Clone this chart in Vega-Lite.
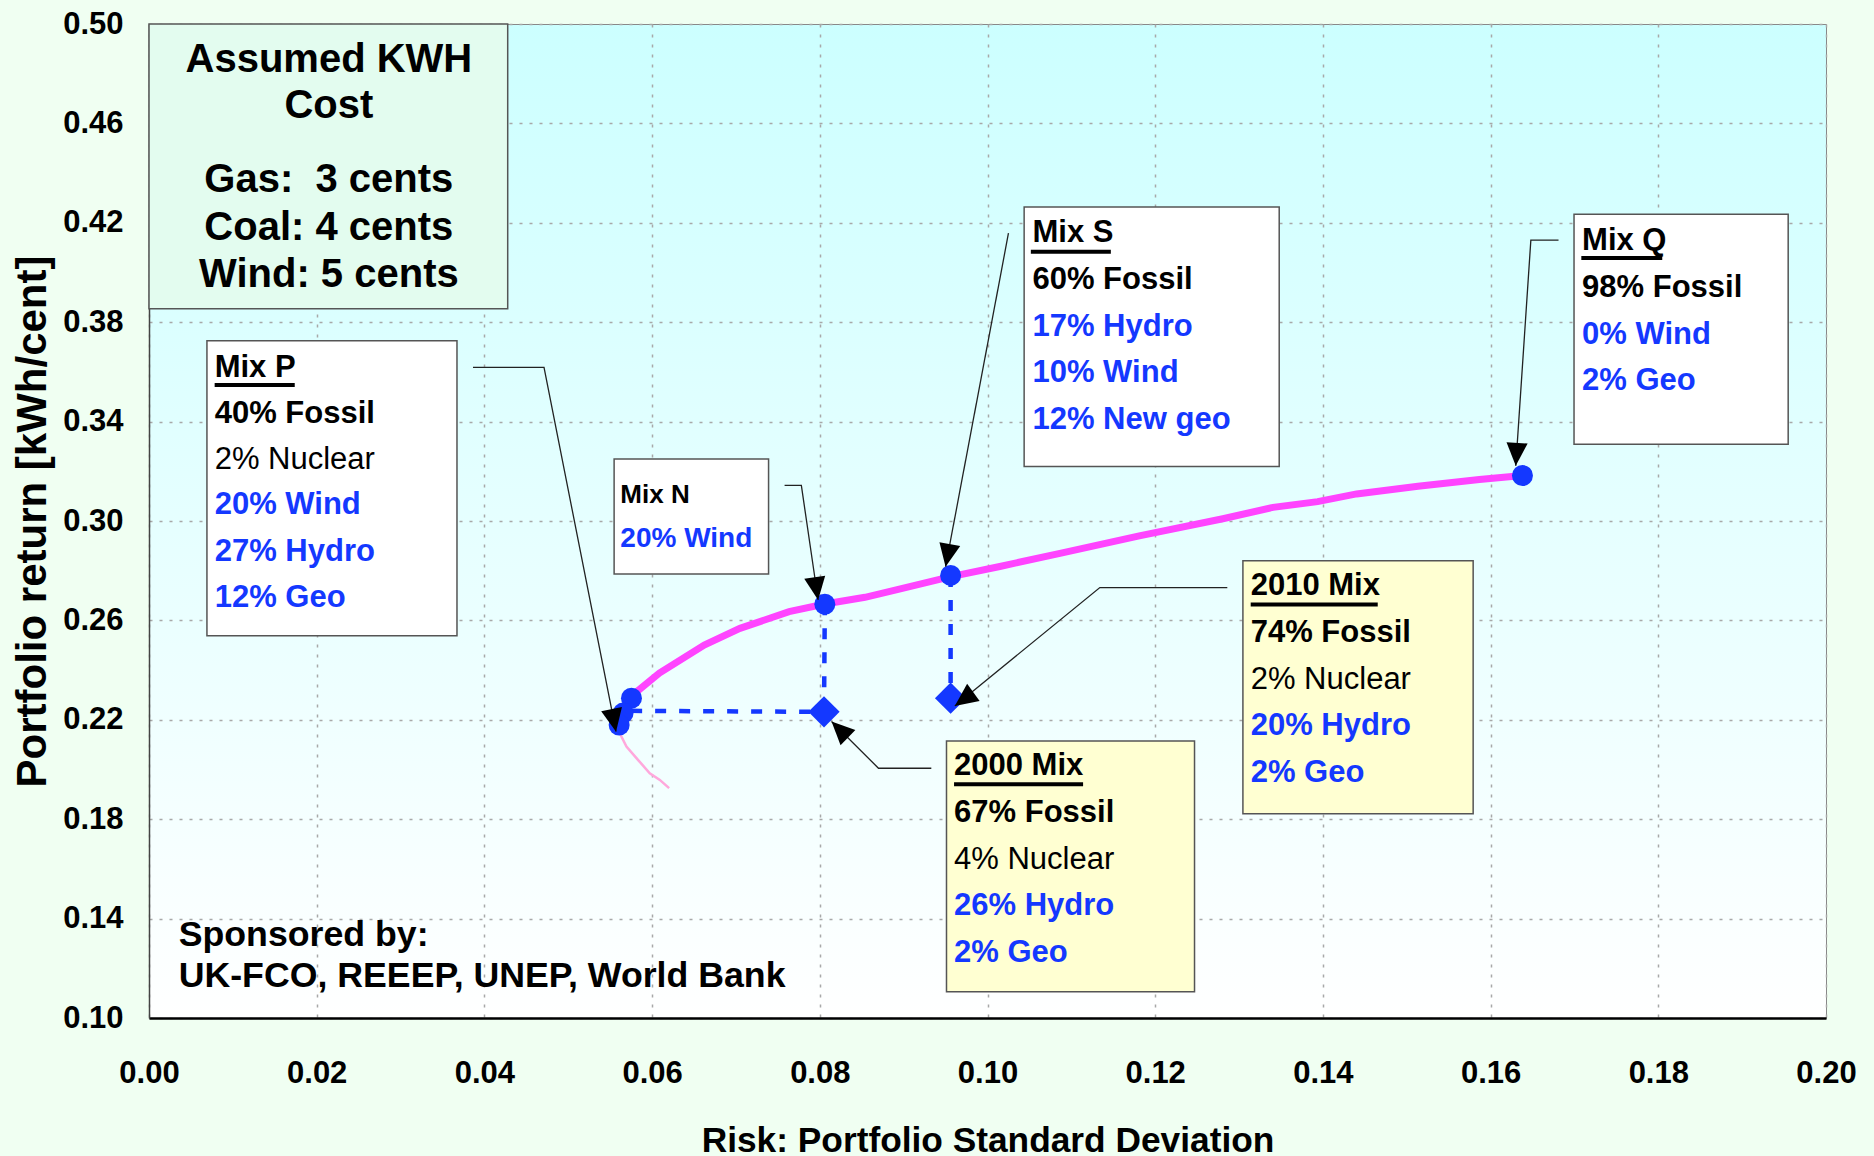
{
  "$schema": "https://vega.github.io/schema/vega-lite/v6.json",
  "width": 1677,
  "height": 994,
  "autosize": {"type": "none"},
  "padding": {"left": 149, "top": 24, "right": 48, "bottom": 138},
  "background": "#f0fff2",
  "config": {
    "font": "Liberation Sans",
    "view": {
      "fill": {"gradient": "linear", "x1": 0, "y1": 0, "x2": 0, "y2": 1,
        "stops": [{"offset": 0, "color": "#ccffff"}, {"offset": 1, "color": "#ffffff"}]},
      "stroke": "#888888",
      "strokeWidth": 1
    },
    "axis": {
      "labelFont": "Liberation Sans",
      "labelFontWeight": "bold",
      "labelFontSize": 31,
      "labelColor": "#000000",
      "ticks": false,
      "tickSize": 0,
      "grid": true,
      "gridColor": "#a8a8a8",
      "gridDash": [3, 7],
      "gridWidth": 1.5,
      "titleFont": "Liberation Sans",
      "titleFontWeight": "bold",
      "titleColor": "#000000",
      "labelFlush": false,
      "labelOverlap": false,
      "labelBound": false
    },
    "axisX": {
      "domainColor": "#000000",
      "domainWidth": 2.5,
      "labelPadding": 40,
      "titleFontSize": 35.3,
      "titleX": 838.5,
      "titleY": 133,
      "titleBaseline": "alphabetic",
      "titleAlign": "center"
    },
    "axisY": {
      "domainColor": "#444444",
      "domainWidth": 1.5,
      "labelPadding": 26,
      "titleFontSize": 42,
      "titleX": -104,
      "titleY": 497,
      "titleAngle": -90,
      "titleBaseline": "alphabetic",
      "titleAlign": "center"
    }
  },
  "datasets": {
    "frontier": [
      {"x": 0.05754, "y": 0.2287}, {"x": 0.05769, "y": 0.2300}, {"x": 0.06087, "y": 0.2388},
      {"x": 0.06622, "y": 0.2501}, {"x": 0.07048, "y": 0.2568}, {"x": 0.07634, "y": 0.2635},
      {"x": 0.0806, "y": 0.2666}, {"x": 0.08539, "y": 0.2693}, {"x": 0.08911, "y": 0.2723},
      {"x": 0.09551, "y": 0.2775}, {"x": 0.10147, "y": 0.2817}, {"x": 0.10878, "y": 0.2871},
      {"x": 0.1181, "y": 0.2940}, {"x": 0.12807, "y": 0.3009}, {"x": 0.13405, "y": 0.3055},
      {"x": 0.13937, "y": 0.3078}, {"x": 0.14402, "y": 0.3109}, {"x": 0.15134, "y": 0.3140},
      {"x": 0.15866, "y": 0.3167}, {"x": 0.16383, "y": 0.3183}
    ],
    "lower": [
      {"x": 0.05607, "y": 0.2179}, {"x": 0.05614, "y": 0.2146}, {"x": 0.05694, "y": 0.2092},
      {"x": 0.05834, "y": 0.2038}, {"x": 0.05972, "y": 0.1985}, {"x": 0.06092, "y": 0.1958},
      {"x": 0.06203, "y": 0.1925}
    ],
    "dashes": [
      {"seg": "h", "seq": 1, "x": 0.0575, "y": 0.2236}, {"seg": "h", "seq": 2, "x": 0.0805, "y": 0.2232},
      {"seg": "vN", "seq": 1, "x": 0.0806, "y": 0.2665}, {"seg": "vN", "seq": 2, "x": 0.0805, "y": 0.2232},
      {"seg": "vS", "seq": 1, "x": 0.0956, "y": 0.2779}, {"seg": "vS", "seq": 2, "x": 0.0956, "y": 0.2287}
    ],
    "mixes": [
      {"name": "Mix P", "x": 0.05754, "y": 0.2287}, {"name": "Mix P", "x": 0.05654, "y": 0.2227},
      {"name": "Mix P", "x": 0.05607, "y": 0.2179}, {"name": "Mix N", "x": 0.0806, "y": 0.2665},
      {"name": "Mix S", "x": 0.0956, "y": 0.2781}, {"name": "Mix Q", "x": 0.1638, "y": 0.3183}
    ],
    "actual": [
      {"name": "2000 Mix", "x": 0.0805, "y": 0.2232}, {"name": "2010 Mix", "x": 0.0956, "y": 0.2287}
    ],
    "arrows": [
      {"id": "P", "seq": 1, "x": 0.03864, "y": 0.3618}, {"id": "P", "seq": 2, "x": 0.04711, "y": 0.3618}, {"id": "P", "seq": 3, "x": 0.0557, "y": 0.2152},
      {"id": "N", "seq": 1, "x": 0.0758, "y": 0.3143}, {"id": "N", "seq": 2, "x": 0.0778, "y": 0.3143}, {"id": "N", "seq": 3, "x": 0.0798, "y": 0.2682},
      {"id": "S", "seq": 1, "x": 0.1025, "y": 0.4158}, {"id": "S", "seq": 2, "x": 0.0950, "y": 0.2816},
      {"id": "Q", "seq": 1, "x": 0.1681, "y": 0.4130}, {"id": "Q", "seq": 2, "x": 0.1648, "y": 0.4130}, {"id": "Q", "seq": 3, "x": 0.1630, "y": 0.3222},
      {"id": "A2010", "seq": 1, "x": 0.1286, "y": 0.2732}, {"id": "A2010", "seq": 2, "x": 0.1134, "y": 0.2732}, {"id": "A2010", "seq": 3, "x": 0.0961, "y": 0.2256},
      {"id": "A2000", "seq": 1, "x": 0.0933, "y": 0.2005}, {"id": "A2000", "seq": 2, "x": 0.0870, "y": 0.2005}, {"id": "A2000", "seq": 3, "x": 0.0814, "y": 0.2193}
    ],
    "heads": [
      {"id": "P", "x": 0.0557, "y": 0.2152}, {"id": "N", "x": 0.0798, "y": 0.2682},
      {"id": "S", "x": 0.0950, "y": 0.2816}, {"id": "Q", "x": 0.1630, "y": 0.3222},
      {"id": "A2010", "x": 0.0961, "y": 0.2256}, {"id": "A2000", "x": 0.0814, "y": 0.2193}
    ],
    "boxes": [
      {"id": "cost", "kind": "cost", "x": 0.0, "x2": 0.04278, "y": 0.3854, "y2": 0.5},
      {"id": "Mix P", "kind": "mix", "x": 0.00691, "x2": 0.03673, "y": 0.2538, "y2": 0.3725},
      {"id": "Mix N", "kind": "mix", "x": 0.05547, "x2": 0.07389, "y": 0.2787, "y2": 0.3250},
      {"id": "Mix S", "kind": "mix", "x": 0.10437, "x2": 0.13479, "y": 0.3219, "y2": 0.4264},
      {"id": "Mix Q", "kind": "mix", "x": 0.16995, "x2": 0.19549, "y": 0.3309, "y2": 0.4234},
      {"id": "2010 Mix", "kind": "actual", "x": 0.13046, "x2": 0.15792, "y": 0.1822, "y2": 0.2840},
      {"id": "2000 Mix", "kind": "actual", "x": 0.09511, "x2": 0.12469, "y": 0.1106, "y2": 0.2115}
    ],
    "underlines": [
      {"id": "Mix P", "x": 0.00783, "x2": 0.01738, "y": 0.3547},
      {"id": "Mix S", "x": 0.10517, "x2": 0.11471, "y": 0.4084},
      {"id": "Mix Q", "x": 0.17082, "x2": 0.18047, "y": 0.4058},
      {"id": "2010 Mix", "x": 0.13139, "x2": 0.14654, "y": 0.2664},
      {"id": "2000 Mix", "x": 0.09601, "x2": 0.1114, "y": 0.1941}
    ],
    "texts": [
      {"kind": "title", "text": "Assumed KWH", "x": 0.02145, "y": 0.4808},
      {"kind": "title", "text": "Cost", "x": 0.02145, "y": 0.4620},
      {"kind": "title", "text": "Gas:\u00a0 3 cents", "x": 0.02145, "y": 0.4325},
      {"kind": "title", "text": "Coal: 4 cents", "x": 0.02145, "y": 0.4131},
      {"kind": "title", "text": "Wind: 5 cents", "x": 0.02145, "y": 0.3940},
      {"kind": "head", "text": "Mix P", "x": 0.00783, "y": 0.3581},
      {"kind": "fossil", "text": "40% Fossil", "x": 0.00783, "y": 0.3393},
      {"kind": "nuclear", "text": "2% Nuclear", "x": 0.00783, "y": 0.3208},
      {"kind": "renew", "text": "20% Wind", "x": 0.00783, "y": 0.3028},
      {"kind": "renew", "text": "27% Hydro", "x": 0.00783, "y": 0.2840},
      {"kind": "renew", "text": "12% Geo", "x": 0.00783, "y": 0.2653},
      {"kind": "nhead", "text": "Mix N", "x": 0.05621, "y": 0.3074},
      {"kind": "nrenew", "text": "20% Wind", "x": 0.05621, "y": 0.2897},
      {"kind": "head", "text": "Mix S", "x": 0.10536, "y": 0.4121},
      {"kind": "fossil", "text": "60% Fossil", "x": 0.10536, "y": 0.3934},
      {"kind": "renew", "text": "17% Hydro", "x": 0.10536, "y": 0.3746},
      {"kind": "renew", "text": "10% Wind", "x": 0.10536, "y": 0.3558},
      {"kind": "renew", "text": "12% New geo", "x": 0.10536, "y": 0.3370},
      {"kind": "head", "text": "Mix Q", "x": 0.17091, "y": 0.4090},
      {"kind": "fossil", "text": "98% Fossil", "x": 0.17091, "y": 0.3902},
      {"kind": "renew", "text": "0% Wind", "x": 0.17091, "y": 0.3714},
      {"kind": "renew", "text": "2% Geo", "x": 0.17091, "y": 0.3526},
      {"kind": "head", "text": "2010 Mix", "x": 0.13139, "y": 0.2701},
      {"kind": "fossil", "text": "74% Fossil", "x": 0.13139, "y": 0.2513},
      {"kind": "nuclear", "text": "2% Nuclear", "x": 0.13139, "y": 0.2325},
      {"kind": "renew", "text": "20% Hydro", "x": 0.13139, "y": 0.2137},
      {"kind": "renew", "text": "2% Geo", "x": 0.13139, "y": 0.1949},
      {"kind": "head", "text": "2000 Mix", "x": 0.09601, "y": 0.1977},
      {"kind": "fossil", "text": "67% Fossil", "x": 0.09601, "y": 0.1789},
      {"kind": "nuclear", "text": "4% Nuclear", "x": 0.09601, "y": 0.1601},
      {"kind": "renew", "text": "26% Hydro", "x": 0.09601, "y": 0.1413},
      {"kind": "renew", "text": "2% Geo", "x": 0.09601, "y": 0.1225},
      {"kind": "sponsor", "text": "Sponsored by:", "x": 0.00354, "y": 0.1288},
      {"kind": "sponsor", "text": "UK-FCO, REEEP, UNEP, World Bank", "x": 0.00354, "y": 0.1124}
    ]
  },
  "layer": [
    {
      "data": {"name": "frontier"},
      "mark": {"type": "line", "color": "#ff44ff", "strokeWidth": 7},
      "encoding": {
        "x": {"field": "x", "type": "quantitative", "scale": {"domain": [0, 0.2], "nice": false, "zero": false},
          "axis": {"title": "Risk: Portfolio Standard Deviation", "values": [0, 0.02, 0.04, 0.06, 0.08, 0.1, 0.12, 0.14, 0.16, 0.18, 0.2], "format": ".2f"}},
        "y": {"field": "y", "type": "quantitative", "scale": {"domain": [0.1, 0.5], "nice": false, "zero": false},
          "axis": {"title": "Portfolio return [kWh/cent]", "values": [0.1, 0.14, 0.18, 0.22, 0.26, 0.3, 0.34, 0.38, 0.42, 0.46, 0.5], "format": ".2f"}}
      }
    },
    {
      "data": {"name": "lower"},
      "mark": {"type": "line", "color": "#ffa8dc", "strokeWidth": 2.5},
      "encoding": {
        "x": {"field": "x", "type": "quantitative", "scale": {"domain": [0, 0.2], "nice": false, "zero": false}},
        "y": {"field": "y", "type": "quantitative", "scale": {"domain": [0.1, 0.5], "nice": false, "zero": false}}
      }
    },
    {
      "data": {"name": "dashes"},
      "mark": {"type": "line", "color": "#1438ff", "strokeWidth": 4.5, "strokeDash": [11, 13]},
      "encoding": {
        "x": {"field": "x", "type": "quantitative", "scale": {"domain": [0, 0.2], "nice": false, "zero": false}},
        "y": {"field": "y", "type": "quantitative", "scale": {"domain": [0.1, 0.5], "nice": false, "zero": false}},
        "detail": {"field": "seg"},
        "order": {"field": "seq"}
      }
    },
    {
      "data": {"name": "mixes"},
      "mark": {"type": "point", "shape": "circle", "filled": true, "opacity": 1, "size": 440, "color": "#1438ff"},
      "encoding": {
        "x": {"field": "x", "type": "quantitative", "scale": {"domain": [0, 0.2], "nice": false, "zero": false}},
        "y": {"field": "y", "type": "quantitative", "scale": {"domain": [0.1, 0.5], "nice": false, "zero": false}}
      }
    },
    {
      "data": {"name": "actual"},
      "mark": {"type": "point", "shape": "diamond", "filled": true, "opacity": 1, "size": 980, "color": "#1438ff"},
      "encoding": {
        "x": {"field": "x", "type": "quantitative", "scale": {"domain": [0, 0.2], "nice": false, "zero": false}},
        "y": {"field": "y", "type": "quantitative", "scale": {"domain": [0.1, 0.5], "nice": false, "zero": false}}
      }
    },
    {
      "data": {"name": "arrows"},
      "mark": {"type": "line", "color": "#222222", "strokeWidth": 1.3},
      "encoding": {
        "x": {"field": "x", "type": "quantitative", "scale": {"domain": [0, 0.2], "nice": false, "zero": false}},
        "y": {"field": "y", "type": "quantitative", "scale": {"domain": [0.1, 0.5], "nice": false, "zero": false}},
        "detail": {"field": "id"},
        "order": {"field": "seq"}
      }
    },
    {
      "data": {"name": "heads"},
      "mark": {"type": "point", "shape": "M0,0L-0.46,-1L0.46,-1Z", "filled": true, "opacity": 1, "size": 2116, "color": "#000000"},
      "encoding": {
        "x": {"field": "x", "type": "quantitative", "scale": {"domain": [0, 0.2], "nice": false, "zero": false}},
        "y": {"field": "y", "type": "quantitative", "scale": {"domain": [0.1, 0.5], "nice": false, "zero": false}},
        "angle": {"field": "id", "type": "nominal", "legend": null,
          "scale": {"type": "ordinal", "domain": ["P", "N", "S", "Q", "A2010", "A2000"], "range": [348.8, 351.5, 10.6, 3.3, 53.9, 134.4]}}
      }
    },
    {
      "data": {"name": "boxes"},
      "mark": {"type": "rect", "stroke": "#555555", "strokeWidth": 1.5},
      "encoding": {
        "x": {"field": "x", "type": "quantitative", "scale": {"domain": [0, 0.2], "nice": false, "zero": false}},
        "x2": {"field": "x2"},
        "y": {"field": "y", "type": "quantitative", "scale": {"domain": [0.1, 0.5], "nice": false, "zero": false}},
        "y2": {"field": "y2"},
        "fill": {"field": "kind", "type": "nominal", "legend": null,
          "scale": {"domain": ["cost", "mix", "actual"], "range": ["#e3fcef", "#ffffff", "#ffffd2"]}}
      }
    },
    {
      "data": {"name": "underlines"},
      "mark": {"type": "rule", "color": "#000000", "strokeWidth": 4},
      "encoding": {
        "x": {"field": "x", "type": "quantitative", "scale": {"domain": [0, 0.2], "nice": false, "zero": false}},
        "x2": {"field": "x2"},
        "y": {"field": "y", "type": "quantitative", "scale": {"domain": [0.1, 0.5], "nice": false, "zero": false}}
      }
    },
    {
      "data": {"name": "texts"},
      "transform": [{"filter": "datum.kind !== 'title' && datum.kind !== 'nuclear'"}],
      "mark": {"type": "text", "align": "left", "baseline": "alphabetic", "fontWeight": "bold", "font": "Liberation Sans"},
      "encoding": {
        "x": {"field": "x", "type": "quantitative", "scale": {"domain": [0, 0.2], "nice": false, "zero": false}},
        "y": {"field": "y", "type": "quantitative", "scale": {"domain": [0.1, 0.5], "nice": false, "zero": false}},
        "text": {"field": "text"},
        "color": {"field": "kind", "type": "nominal", "legend": null,
          "scale": {"domain": ["head", "fossil", "renew", "nhead", "nrenew", "sponsor"], "range": ["#000000", "#000000", "#1438ff", "#000000", "#1438ff", "#000000"]}},
        "size": {"field": "kind", "type": "nominal", "legend": null,
          "scale": {"type": "ordinal", "domain": ["head", "fossil", "renew", "nhead", "nrenew", "sponsor"], "range": [31, 31, 31, 26, 28, 35.7]}}
      }
    },
    {
      "data": {"name": "texts"},
      "transform": [{"filter": "datum.kind === 'nuclear'"}],
      "mark": {"type": "text", "align": "left", "baseline": "alphabetic", "fontWeight": "normal", "font": "Liberation Sans", "fontSize": 31, "color": "#000000"},
      "encoding": {
        "x": {"field": "x", "type": "quantitative", "scale": {"domain": [0, 0.2], "nice": false, "zero": false}},
        "y": {"field": "y", "type": "quantitative", "scale": {"domain": [0.1, 0.5], "nice": false, "zero": false}},
        "text": {"field": "text"}
      }
    },
    {
      "data": {"name": "texts"},
      "transform": [{"filter": "datum.kind === 'title'"}],
      "mark": {"type": "text", "align": "center", "baseline": "alphabetic", "fontWeight": "bold", "font": "Liberation Sans", "fontSize": 40, "color": "#000000"},
      "encoding": {
        "x": {"field": "x", "type": "quantitative", "scale": {"domain": [0, 0.2], "nice": false, "zero": false}},
        "y": {"field": "y", "type": "quantitative", "scale": {"domain": [0.1, 0.5], "nice": false, "zero": false}},
        "text": {"field": "text"}
      }
    }
  ],
  "resolve": {"scale": {"color": "independent", "size": "independent"}}
}
